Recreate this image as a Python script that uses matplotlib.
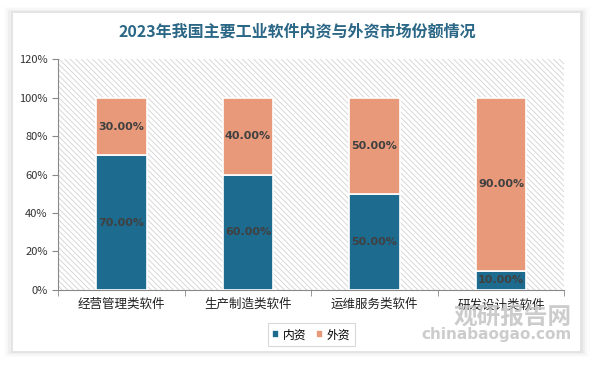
import numpy as np
import matplotlib.pyplot as plt
from matplotlib.patches import FancyBboxPatch

plt.rcParams['font.family'] = ['Noto Sans CJK SC', 'DejaVu Sans']
plt.rcParams['hatch.linewidth'] = 0.6

# 数据
categorias = ['经营管理类软件', '生产制造类软件', '运维服务类软件', '研发设计类软件']
neizi = [70, 60, 50, 10]
waizi = [30, 40, 50, 90]
series = ['内资', '外资']
yticks = [0, 20, 40, 60, 80, 100, 120]

cor_nei = '#1d6b8f'
cor_wai = '#e8997a'

fig = plt.figure(figsize=(5.94, 3.66), dpi=100)
fig.patch.set_facecolor('white')

# cartão com sombra suave
for i, a in enumerate([0.012, 0.02, 0.03, 0.045]):
    d = 0.004 * (4 - i)
    fig.patches.append(FancyBboxPatch((0.022 - d, 0.04 - d), 0.955 + 2 * d, 0.925 + 2 * d,
                                      boxstyle='square,pad=0', transform=fig.transFigure,
                                      facecolor='#000000', alpha=a, edgecolor='none', zorder=0))
fig.patches.append(FancyBboxPatch((0.022, 0.04), 0.955, 0.925, boxstyle='square,pad=0',
                                  transform=fig.transFigure, facecolor='white',
                                  edgecolor='none', zorder=0))

ax = fig.add_axes([0.098, 0.208, 0.852, 0.63])
ax.set_zorder(1)
ax.patch.set_facecolor('white')
ax.patch.set_edgecolor('#d2d2d2')
ax.patch.set_hatch('\\\\\\\\\\\\')
ax.patch.set_linewidth(0)

x = np.arange(len(categorias))
w = 0.4
b1 = ax.bar(x, neizi, w, color=cor_nei, edgecolor='white', linewidth=1.2, label=series[0], zorder=3)
b2 = ax.bar(x, waizi, w, bottom=neizi, color=cor_wai, edgecolor='white', linewidth=1.2,
            label=series[1], zorder=3)

for rects, vals, bots in [(b1, neizi, [0] * 4), (b2, waizi, neizi)]:
    for r, v, b in zip(rects, vals, bots):
        ax.text(r.get_x() + r.get_width() / 2, b + v / 2, f'{v:.2f}%', ha='center', va='center',
                fontsize=8, fontweight='bold', color='#404040', family=['DejaVu Sans'], zorder=4)

ax.set_xlim(-0.5, 3.5)
ax.set_ylim(0, 120)
ax.set_yticks(yticks)
ax.set_yticklabels([f'{t}%' for t in yticks], fontsize=8, color='#333333')
ax.set_xticks(x)
ax.set_xticklabels(categorias, fontsize=9, color='#222222')
ax.set_xticks(np.arange(-0.5, 4, 1), minor=True)
ax.tick_params(axis='x', which='major', length=0, pad=6)
ax.tick_params(axis='x', which='minor', length=4, color='#888888')
ax.tick_params(axis='y', length=4, color='#888888')
for s in ['top', 'right']:
    ax.spines[s].set_visible(False)
ax.spines['left'].set_color('#888888')
ax.spines['bottom'].set_color('#888888')

fig.text(0.5, 0.913, '2023年我国主要工业软件内资与外资市场份额情况', ha='center', va='center',
         fontsize=11.5, fontweight='bold', color='#2a6685')

leg = ax.legend(loc='upper center', bbox_to_anchor=(0.5, -0.12), ncol=2, fontsize=8.5,
                frameon=True, handlelength=0.6, handleheight=0.6, handletextpad=0.3,
                columnspacing=0.8, fancybox=False, borderpad=0.4)
leg.get_frame().set_edgecolor('#d0d0d0')
leg.get_frame().set_linewidth(0.8)

# marca d'água
fig.text(0.962, 0.135, '观研报告网', ha='right', va='center', fontsize=17, fontweight='bold',
         color='#c4c4c4', alpha=0.85, zorder=5)
fig.text(0.962, 0.085, 'chinabaogao.com', ha='right', va='center', fontsize=11,
         fontweight='bold', color='#c4c4c4', alpha=0.85, family=['DejaVu Sans'], zorder=5)

plt.savefig('out.png', dpi=100)
